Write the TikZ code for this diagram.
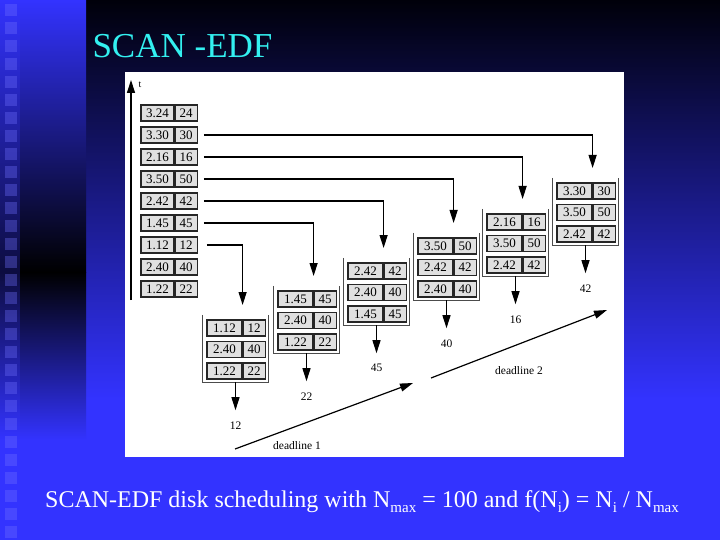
\documentclass[tikz,border=0pt]{standalone}
\usepackage{fontspec}
\setmainfont{Liberation Serif}
\usetikzlibrary{positioning,arrows.meta}

\definecolor{slideblue}{RGB}{51,51,255}
\definecolor{slidedark}{RGB}{0,0,10}
\definecolor{titlecyan}{RGB}{51,240,240}
\definecolor{cellgray}{RGB}{224,224,224}

\newcommand\capsub[1]{\raisebox{-5pt}{\fontsize{15}{15}\selectfont #1}}

\tikzset{
  tcell/.style={draw=black!85, line width=1.2pt, fill=cellgray, minimum width=35pt,
    minimum height=16pt, inner sep=0pt, font=\fontsize{13}{13}\selectfont},
  ncell/.style={tcell, minimum width=22pt},
  grpbox/.style={minimum width=65pt, minimum height=67pt, inner sep=0pt},
  grpline/.style={draw=black!70, line width=0.7pt},
  arr/.style={line width=1.2pt, -{Triangle[length=13pt,width=8pt]}},
  outlbl/.style={inner xsep=2pt, inner ysep=11pt, font=\fontsize{11.5}{11.5}\selectfont},
  dlbl/.style={font=\fontsize{11.5}{11.5}\selectfont},
}

\begin{document}
\begin{tikzpicture}[x=1pt,y=-1pt]
  \useasboundingbox (0,0) rectangle (720,540);

  % slide background
  \fill[slideblue] (0,0) rectangle (720,540);
  \shade[top color=slidedark, bottom color=slideblue] (86,0) rectangle (720,400);
  \shade[top color=slideblue, bottom color=black] (0,0) rectangle (86,272);
  \shade[top color=black, bottom color=slideblue] (0,272) rectangle (86,440);
  \fill[slideblue, opacity=0.25] (0,0) rectangle (20,540);
  \foreach \k in {0,...,29}
    \fill[slideblue!70!white, opacity=0.35] (5,4+18*\k) rectangle ++(12,12);

  \node[anchor=base west, text=titlecyan, font=\fontsize{35}{35}\selectfont] (title) at (89,58) {SCAN -EDF};

  % figure
  \fill[white] (125,72) rectangle (624,457);

  \coordinate (tbot) at (131,300);
  \coordinate (ttop) at (131,80);
  \draw[arr] (tbot) -- (ttop);
  \node[font=\fontsize{10}{10}\selectfont] (tlbl) at (140,85) {t};

  % request queue
  \foreach \t/\n [count=\i] in {3.24/24,3.30/30,2.16/16,3.50/50,2.42/42,1.45/45,1.12/12,2.40/40,1.22/22} {
    \node[tcell, minimum width=33pt] (q\i a) at (157.5,91+22*\i) {\t};
    \node[ncell, right=0pt of q\i a] (q\i b) {\n};
  }

  % groups
  \foreach \g/\x/\y/\ta/\na/\tb/\nb/\tc/\nc/\out in {
      1/207/328/1.12/12/2.40/40/1.22/22/12,
      2/278/299/1.45/45/2.40/40/1.22/22/22,
      3/348/271/2.42/42/2.40/40/1.45/45/45,
      4/418/246/3.50/50/2.42/42/2.40/40/40,
      5/487/222/2.16/16/3.50/50/2.42/42/16,
      6/557/191/3.30/30/3.50/50/2.42/42/42} {
    \node[grpbox] (g\g) at (\x+28.5,\y+20.5) {};
    \draw[grpline] (g\g.north west) |- (g\g.south east) -- (g\g.north east);
    \node[tcell] (g\g r1a) at (\x+17.5,\y) {\ta};
    \node[ncell, right=0pt of g\g r1a] (g\g r1b) {\na};
    \node[tcell] (g\g r2a) at (\x+17.5,\y+21.5) {\tb};
    \node[ncell, right=0pt of g\g r2a] (g\g r2b) {\nb};
    \node[tcell] (g\g r3a) at (\x+17.5,\y+43) {\tc};
    \node[ncell, right=0pt of g\g r3a] (g\g r3b) {\nc};
    \coordinate (in\g) at ([yshift=23pt]g\g r1a.east);
    \node[outlbl, below=28pt of g\g] (o\g) {\out};
    \draw[arr] (g\g) -- (o\g);
  }

  \draw[arr] ([xshift=6pt]q2b.east) -| (in6);
  \draw[arr] ([xshift=6pt]q3b.east) -| (in5);
  \draw[arr] ([xshift=6pt]q4b.east) -| (in4);
  \draw[arr] ([xshift=6pt]q5b.east) -| (in3);
  \draw[arr] ([xshift=6pt]q6b.east) -| (in2);
  \draw[arr] ([xshift=9pt]q7b.east) -| (in1);

  % deadlines
  \coordinate (d1s) at (235,449);
  \coordinate (d1e) at (413,383);
  \coordinate (d2s) at (431,378);
  \coordinate (d2e) at (607,310);
  \draw[arr] (d1s) -- (d1e);
  \draw[arr] (d2s) -- (d2e);
  \node[dlbl] (dl1) at (297,446) {deadline 1};
  \node[dlbl] (dl2) at (519,371) {deadline 2};

  \node[anchor=base, text=white, font=\fontsize{24}{24}\selectfont] (caption) at (362,507)
    {SCAN-EDF disk scheduling with N\capsub{max} = 100 and f(N\capsub{i}) = N\capsub{i} / N\capsub{max}};
\end{tikzpicture}
\end{document}
